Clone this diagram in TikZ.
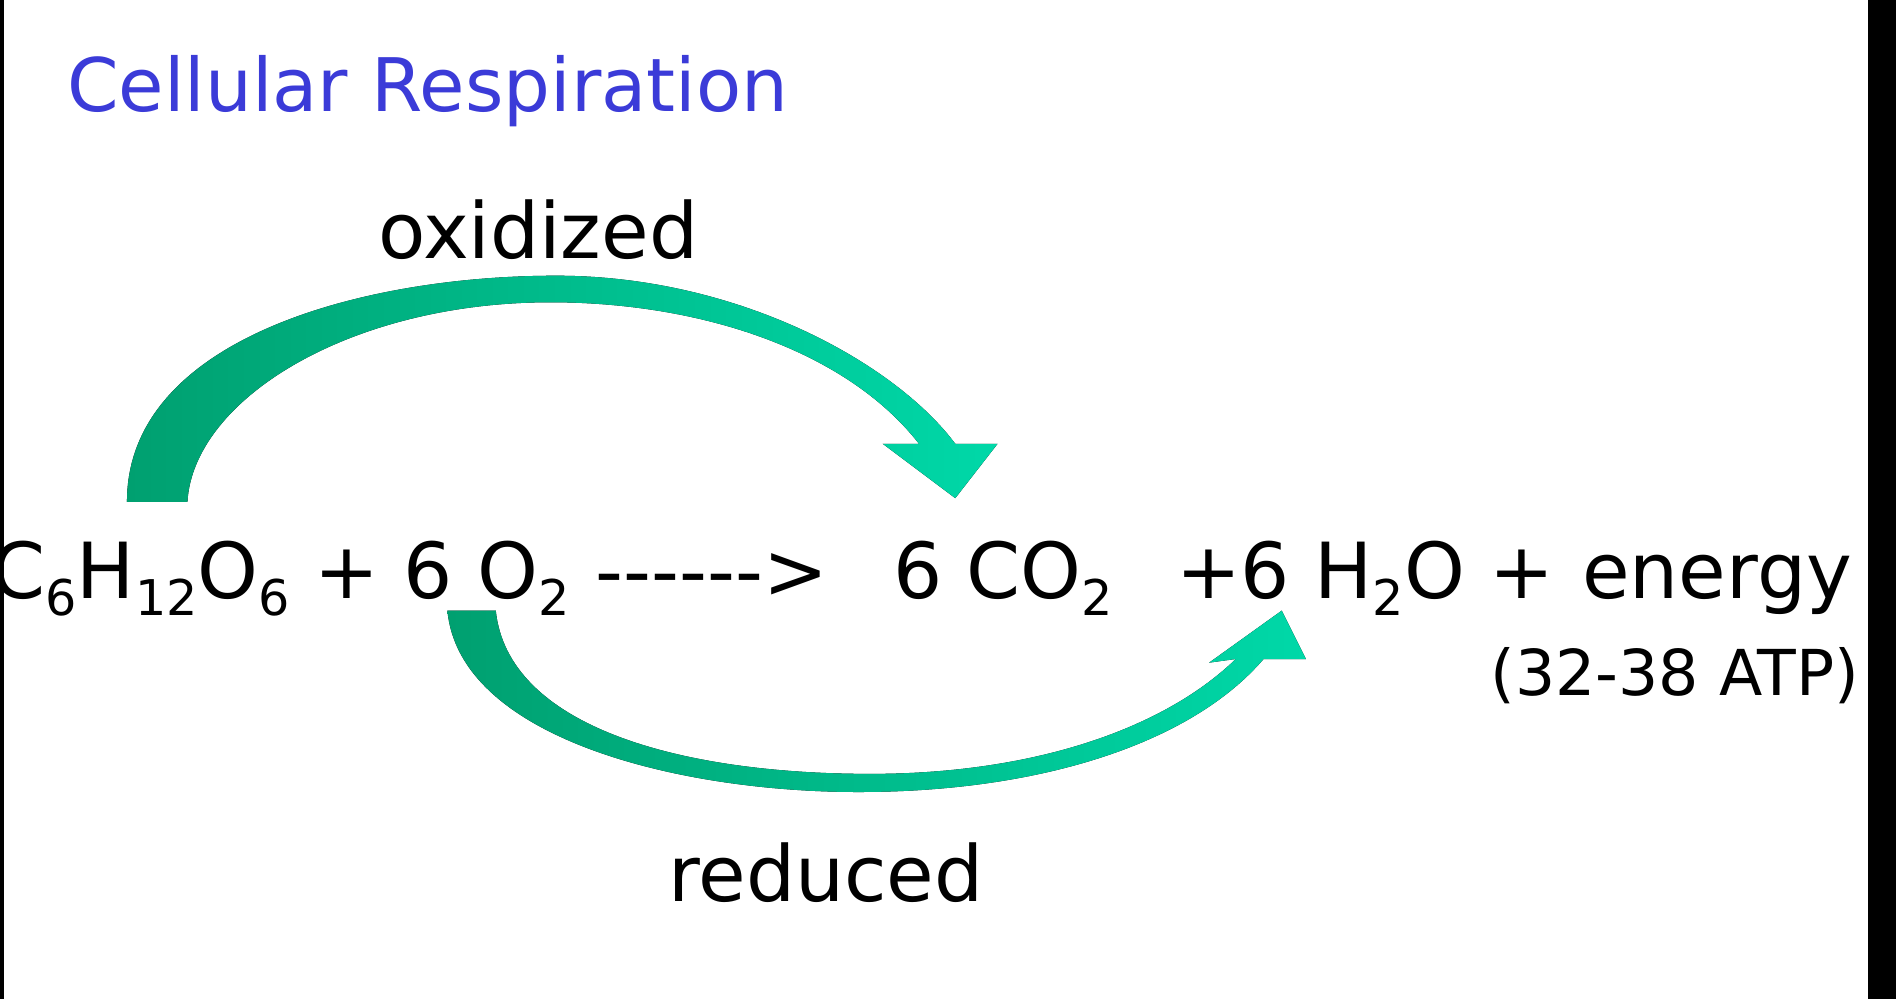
\documentclass[tikz,border=0pt]{standalone}
\usepackage{fontspec}
\setmainfont{DejaVu Sans}
\definecolor{titleblue}{HTML}{3B3BD8}
\definecolor{arrowdark}{HTML}{00A070}
\definecolor{arrowlight}{HTML}{00D8A8}
\newcommand{\lowsub}[1]{\raisebox{-0.22em}{\fontsize{14}{14}\selectfont #1}}
\begin{document}
\begin{tikzpicture}[x=0.01209cm, y=-0.01209cm,
                    eqtext/.style = {inner sep = 0pt, font = \fontsize{22}{26}\selectfont},
                    label/.style = {inner sep = 0pt, font = \fontsize{22}{26}\selectfont},
                    bigarrow/.style = {left color = arrowdark, right color = arrowlight, draw = none}]
  \useasboundingbox (0,0) rectangle (1568,826);
  \fill[white] (0,0) rectangle (1568,826);

  \node [anchor = base west, inner sep = 0pt, text = titleblue,
         font = \fontsize{21}{25}\selectfont] (title) at (55,92) {Cellular Respiration};

  \node [label] (ox) at (445,190) {oxidized};
  \node [label] (red) at (683,722) {reduced};

  \node [eqtext, anchor = base east] (react) at (472,495) {C\lowsub{6}H\lowsub{12}O\lowsub{6} + 6 O\lowsub{2}};
  \node [eqtext, anchor = base west] (dash) at (492,495) {-{}-{}-{}-{}-{}->};
  \node [eqtext, anchor = base west] (co2) at (738,495) {6 CO\lowsub{2}};
  \node [eqtext, anchor = base west] (h2o) at (972,495) {+6 H\lowsub{2}O +};
  \node [eqtext, anchor = base west] (en) at (1308,495) {energy};
  \node [anchor = base west, inner sep = 0pt, font = \fontsize{18}{22}\selectfont] (atp) at (1232,575) {(32-38 ATP)};

  % top arrow
  \fill [bigarrow] (105,415) .. controls (105,280) and (300,228) .. (460,228)
        .. controls (610,228) and (740,300) .. (790,367) -- (825,367) -- (790,412) -- (730,367) -- (760,367)
        .. controls (700,290) and (580,250) .. (455,250)
        .. controls (290,250) and (160,330) .. (155,415) -- cycle;

  % bottom arrow
  \fill [bigarrow] (370,505) .. controls (380,610) and (560,655) .. (710,655)
        .. controls (860,655) and (985,615) .. (1045,545) -- (1080,545) -- (1060,505) -- (1000,548) -- (1022,545)
        .. controls (960,605) and (850,640) .. (720,640)
        .. controls (560,640) and (420,600) .. (410,505) -- cycle;

  \fill[black] (0,0) rectangle (3,826);
  \fill[black] (1545,0) rectangle (1568,826);
\end{tikzpicture}
\end{document}
